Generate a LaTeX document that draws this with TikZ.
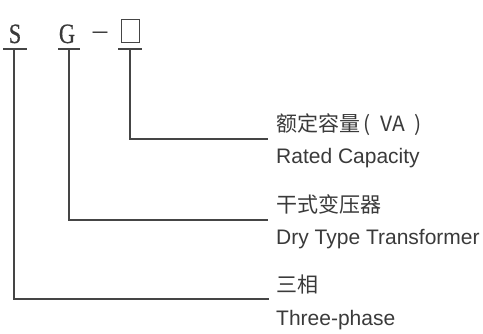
\documentclass[tikz,border=0pt]{standalone}
\usepackage{fontspec}
\setmainfont{Liberation Sans}
\newfontfamily\cjk{Noto Sans CJK SC}
\newfontfamily\codefont[FakeStretch=0.8,FakeBold=0.6]{Liberation Serif}
\newfontfamily\dashfont{Liberation Serif}
\usetikzlibrary{positioning}
\definecolor{inkgray}{HTML}{3A3A3A}
\definecolor{linegray}{HTML}{454545}

\begin{document}
\begin{tikzpicture}[x=1pt, y=-1pt,
  letter/.style={inner sep=0pt, anchor=base, text=inkgray, font=\codefont\fontsize{28}{28}\selectfont},
  zh/.style={inner sep=0pt, anchor=base west, text=inkgray, font=\cjk\fontsize{21}{21}\selectfont},
  en/.style={inner sep=0pt, anchor=base west, text=inkgray, font=\fontsize{21}{21}\selectfont},
  lead/.style={line width=1.6pt, draw=linegray}]
\useasboundingbox (0,0) rectangle (483,334);

% Model code
\node[letter] (s) at (15,43) {S};
\node[letter] (g) at (67,43) {G};
\node[letter, font=\dashfont\fontsize{29}{29}\selectfont] (dash) at (100,40) {–};
\node[draw=linegray, line width=1.5pt, minimum width=18pt, minimum height=23pt, inner sep=0pt] (cap) at (130.5,31) {};

% Tee points under the code
\coordinate (sT) at (14,49);
\coordinate (gT) at (69,49);
\coordinate (capT) at (130,49);
\draw[lead] ([xshift=-11pt]sT) -- ([xshift=13pt]sT);
\draw[lead] ([xshift=-11pt]gT) -- ([xshift=11pt]gT);
\draw[lead] ([xshift=-12pt]capT) -- ([xshift=12pt]capT);

% Labels
\node[zh] (capZh) at (276,132) {额定容量\,(\hspace{0.45em}VA\hspace{0.45em})};
\node[en] (capEn) at (276,164) {Rated Capacity};
\node[zh] (dryZh) at (276,213) {干式变压器};
\node[en] (dryEn) at (276,245) {Dry Type Transformer};
\node[zh] (phaseZh) at (276,293) {三相};
\node[en] (phaseEn) at (276,326) {Three-phase};

% Leads
\coordinate (capEnd) at (268,139);
\coordinate (dryEnd) at (268,220);
\coordinate (phaseEnd) at (269,299);
\draw[lead] (capT) |- (capEnd);
\draw[lead] (gT) |- (dryEnd);
\draw[lead] (sT) |- (phaseEnd);
\end{tikzpicture}
\end{document}
